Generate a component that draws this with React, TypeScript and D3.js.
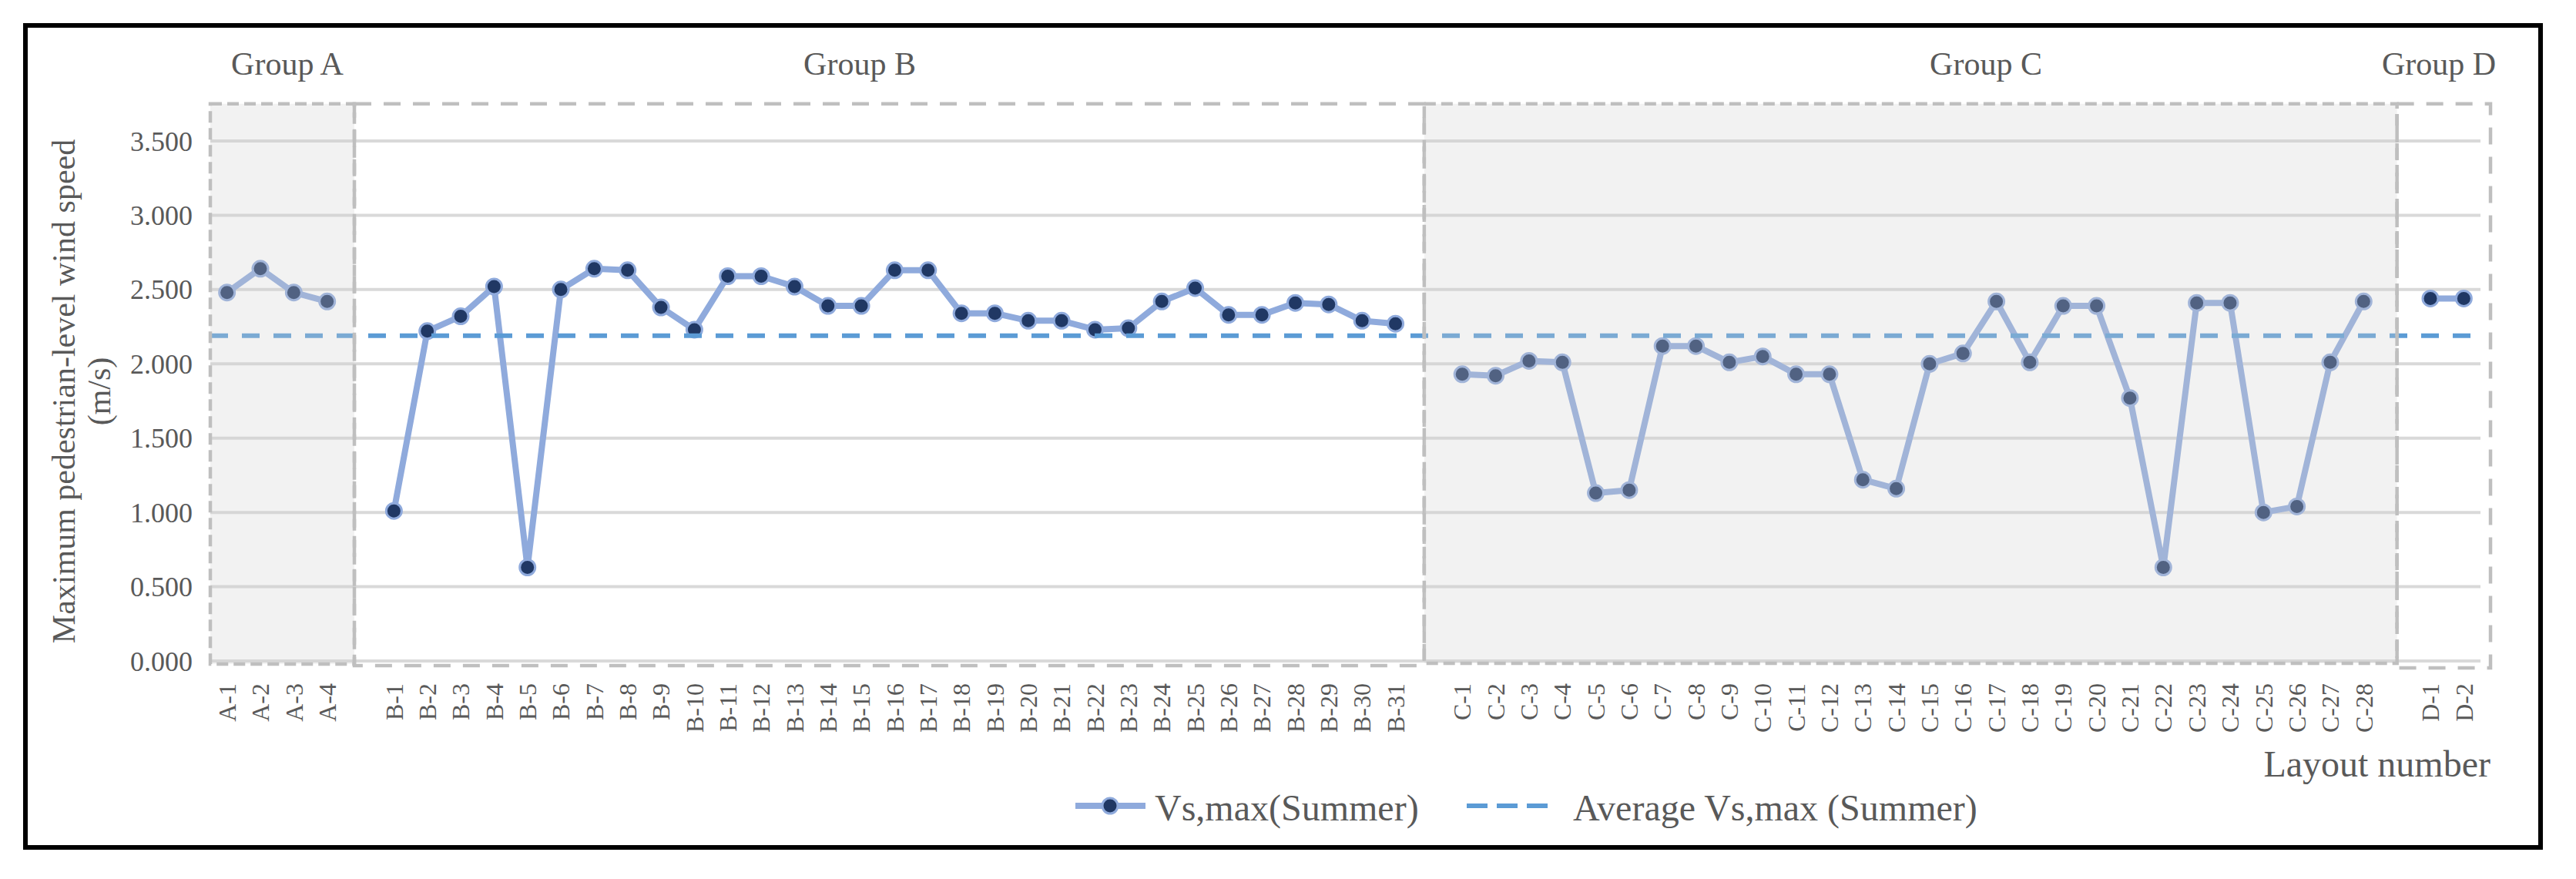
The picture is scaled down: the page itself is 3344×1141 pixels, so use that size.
import React from 'react'
import * as d3 from 'd3'

// Vs,max (Summer) per layout
const groupA = [2.48, 2.64, 2.48, 2.42]
const groupB = [
    1.01, 2.22, 2.32, 2.52, 0.63, 2.5, 2.64, 2.63, 2.38, 2.23, 2.59, 2.59, 2.52,
    2.39, 2.39, 2.63, 2.63, 2.34, 2.34, 2.29, 2.29, 2.23, 2.24, 2.42, 2.51, 2.33,
    2.33, 2.41, 2.4, 2.29, 2.27,
]
const groupC = [
    1.93, 1.92, 2.02, 2.01, 1.13, 1.15, 2.12, 2.12, 2.01, 2.05, 1.93, 1.93, 1.22,
    1.16, 2.0, 2.07, 2.42, 2.01, 2.39, 2.39, 1.77, 0.63, 2.41, 2.41, 1.0, 1.04,
    2.01, 2.42,
]
const groupD = [2.44, 2.44]
const averageVs = 2.19

const groupKeys = ['A', 'B', 'C', 'D']
const groupTitles = ['Group A', 'Group B', 'Group C', 'Group D']
const groupValues = [groupA, groupB, groupC, groupD]
const yTicks = [0, 0.5, 1, 1.5, 2, 2.5, 3, 3.5]

type Slot = { id: string; label: string; value: number | null }

const slots: Slot[] = []
groupKeys.forEach((k, gi) => {
    if (gi > 0) slots.push({ id: `gap${gi}`, label: '', value: null })
    groupValues[gi].forEach((v, i) =>
        slots.push({ id: `${k}-${i + 1}`, label: `${k}-${i + 1}`, value: v })
    )
})

const W = 3344
const H = 1141
const font = '"Liberation Serif", "Times New Roman", serif'
const textColor = '#595959'

export default function App() {
    const x = d3
        .scalePoint<string>()
        .domain(slots.map(s => s.id))
        .range([273, 3220])
        .padding(0.5)
    const y = d3.scaleLinear().domain([0, 3.5]).range([858, 183])
    const fmt = d3.format('.3f')

    const line = d3
        .line<Slot>()
        .defined(d => d.value !== null)
        .x(d => x(d.id) as number)
        .y(d => y(d.value as number))

    const [x0, x1] = x.range()
    const e1 = (x('gap1') as number) - 8
    const e2 = (x('gap2') as number) - 6
    const e3 = x('gap3') as number
    const e4 = x1 + 13
    const boxTop = y(3.75)

    const boxes = [
        { x0: x0, x1: e1, bottom: y(0) + 4, shaded: true, dash: '15 7' },
        { x0: e1, x1: e2, bottom: y(0) + 6, shaded: false, dash: '22 16' },
        { x0: e2, x1: e3, bottom: y(0) + 3, shaded: true, dash: '15 7' },
        { x0: e3, x1: e4, bottom: y(0) + 9, shaded: false, dash: '22 16' },
    ]
    const titleX = [373, 1116, 2578, 3166]

    const points = slots.filter(s => s.value !== null)

    return (
        <svg
            width={W}
            height={H}
            style={{ position: 'absolute', left: 0, top: 0, background: '#fff' }}
            fontFamily={font}
        >
            <style>{'body{margin:0}'}</style>
            <rect x={33} y={33} width={3265} height={1067} fill='#fff' stroke='#000' strokeWidth={6} />

            {/* gridlines */}
            <g stroke='#d9d9d9' strokeWidth={4}>
                {yTicks.map(t => (
                    <line key={t} x1={x0} x2={x1} y1={y(t)} y2={y(t)} />
                ))}
            </g>

            {/* y tick labels */}
            <g fontSize={36} fill={textColor} textAnchor='end'>
                {yTicks.map(t => (
                    <text key={t} x={250} y={y(t)} dy='0.35em'>
                        {fmt(t)}
                    </text>
                ))}
            </g>

            {/* series */}
            <path
                d={line(slots) || ''}
                fill='none'
                stroke='#8faadc'
                strokeWidth={8}
                strokeLinejoin='round'
            />
            <g fill='#203864' stroke='#8faadc' strokeWidth={3}>
                {points.map(p => (
                    <circle key={p.id} cx={x(p.id)} cy={y(p.value as number)} r={10} />
                ))}
            </g>
            <line
                x1={x0}
                x2={x1}
                y1={y(averageVs)}
                y2={y(averageVs)}
                stroke='#5b9bd5'
                strokeWidth={6}
                strokeDasharray='23 18'
            />

            {/* group boxes */}
            {boxes.map((b, i) => (
                <g key={i}>
                    {b.shaded && (
                        <rect
                            x={b.x0}
                            y={boxTop}
                            width={b.x1 - b.x0}
                            height={b.bottom - boxTop}
                            fill='#d2d2d2'
                            fillOpacity={0.28}
                        />
                    )}
                    <rect
                        x={b.x0}
                        y={boxTop}
                        width={b.x1 - b.x0}
                        height={b.bottom - boxTop}
                        fill='none'
                        stroke='#bfbfbf'
                        strokeWidth={4.5}
                        strokeDasharray={b.dash}
                    />
                </g>
            ))}

            {/* group titles */}
            <g fontSize={42} fill={textColor} textAnchor='middle'>
                {groupTitles.map((t, i) => (
                    <text key={t} x={titleX[i]} y={97}>
                        {t}
                    </text>
                ))}
            </g>

            {/* x labels */}
            <g fontSize={32} fill={textColor} textAnchor='end'>
                {points.map(p => (
                    <text
                        key={p.id}
                        transform={`translate(${x(p.id)},${887}) rotate(-90)`}
                        dy='0.35em'
                    >
                        {p.label}
                    </text>
                ))}
            </g>
            <text x={3233} y={1008} fontSize={48} fill={textColor} textAnchor='end'>
                Layout number
            </text>

            {/* y axis title */}
            <g fontSize={42} fill={textColor} textAnchor='middle'>
                <text transform={`translate(97,${508}) rotate(-90)`}>
                    Maximum pedestrian-level wind speed
                </text>
                <text transform={`translate(143,${508}) rotate(-90)`}>(m/s)</text>
            </g>

            {/* legend */}
            <g fontSize={48} fill={textColor}>
                <line x1={1396} x2={1487} y1={1046} y2={1046} stroke='#8faadc' strokeWidth={8} />
                <circle cx={1441} cy={1046} r={10} fill='#203864' stroke='#8faadc' strokeWidth={3} />
                <text x={1499} y={1065}>Vs,max(Summer)</text>
                <line
                    x1={1904}
                    x2={2009}
                    y1={1046}
                    y2={1046}
                    stroke='#5b9bd5'
                    strokeWidth={6}
                    strokeDasharray='27 12'
                />
                <text x={2042} y={1065}>Average Vs,max (Summer)</text>
            </g>
        </svg>
    )
}
